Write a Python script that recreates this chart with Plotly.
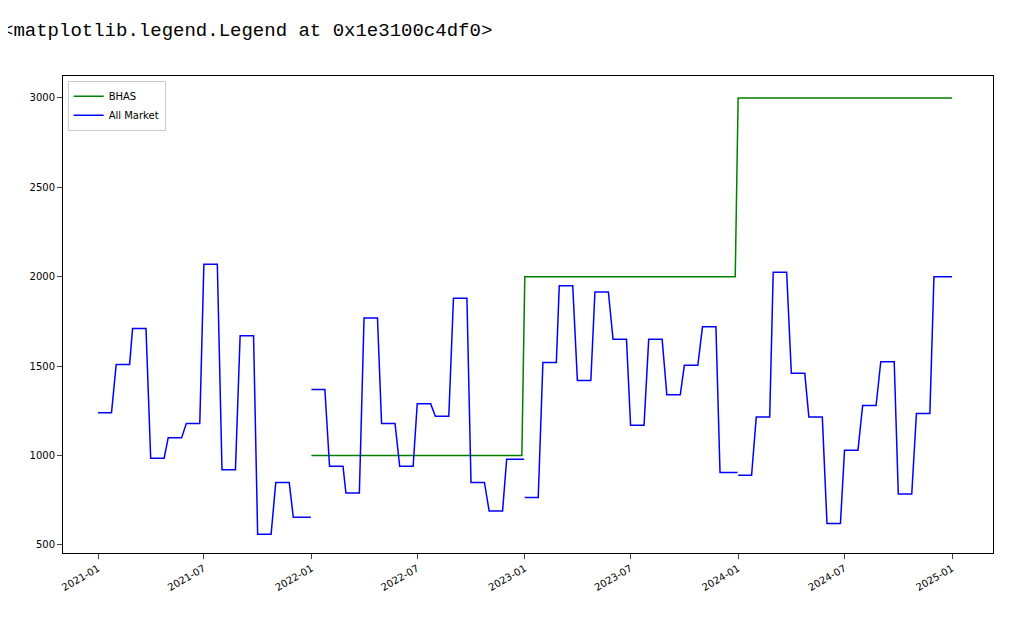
import plotly.graph_objects as go
import datetime as dt

years = [2021, 2022, 2023, 2024]
all_market = {
    2021: [1240, 1510, 1710, 985, 1100, 1180, 2070, 920, 1670, 560, 850, 655],
    2022: [1370, 940, 790, 1770, 1180, 940, 1290, 1220, 1880, 850, 690, 980],
    2023: [765, 1520, 1950, 1420, 1915, 1650, 1170, 1650, 1340, 1505, 1720, 905],
    2024: [890, 1215, 2025, 1460, 1215, 620, 1030, 1280, 1525, 785, 1235, 2000],
}
bhas_dates = ["2022-01-01", "2022-12-27", "2023-01-01", "2023-12-27", "2024-01-01", "2025-01-01"]
bhas_vals = [1000, 1000, 2000, 2000, 3000, 3000]

xs, ys = [], []
for y in years:
    vals = all_market[y]
    for m, v in enumerate(vals, start=1):
        start = dt.date(y, m, 1)
        end = dt.date(y, m, 24) if m < 12 else dt.date(y, 12, 31)
        if y == 2024 and m == 12:
            end = dt.date(2025, 1, 1)
        xs += [start, end]
        ys += [v, v]
    xs.append(None); ys.append(None)

fig = go.Figure()
fig.add_trace(go.Scatter(x=bhas_dates, y=bhas_vals, mode="lines", name="BHAS",
                         line=dict(color="green", width=1.5)))
fig.add_trace(go.Scatter(x=xs, y=ys, mode="lines", name="All Market",
                         line=dict(color="blue", width=1.5), connectgaps=False))

fig.update_layout(
    width=1024, height=633, paper_bgcolor="white", plot_bgcolor="white",
    margin=dict(l=55, r=39, t=68, b=88),
    font=dict(family="DejaVu Sans", size=10, color="black"),
    legend=dict(x=0.005, y=0.99, xanchor="left", yanchor="top", bordercolor="#cccccc",
                borderwidth=1, bgcolor="white", font=dict(size=10)),
    annotations=[dict(text="&lt;matplotlib.legend.Legend at 0x1e3100c4df0&gt;", xref="paper", yref="paper",
                      x=-0.068, y=1.095, xanchor="left", yanchor="middle", showarrow=False,
                      font=dict(family="Liberation Mono", size=19, color="black"))],
)
fig.update_xaxes(range=["2020-11-02", "2025-03-12"], tickformat="%Y-%m", dtick="M6",
                 tick0="2021-01-01", tickangle=-30, ticks="outside", showline=True,
                 linecolor="black", mirror=True, showgrid=False, zeroline=False, automargin=False)
fig.update_yaxes(range=[455, 3123], tickvals=[500, 1000, 1500, 2000, 2500, 3000],
                 ticks="outside", showline=True, linecolor="black", mirror=True,
                 showgrid=False, zeroline=False, automargin=False)
fig.write_html("out.html")
